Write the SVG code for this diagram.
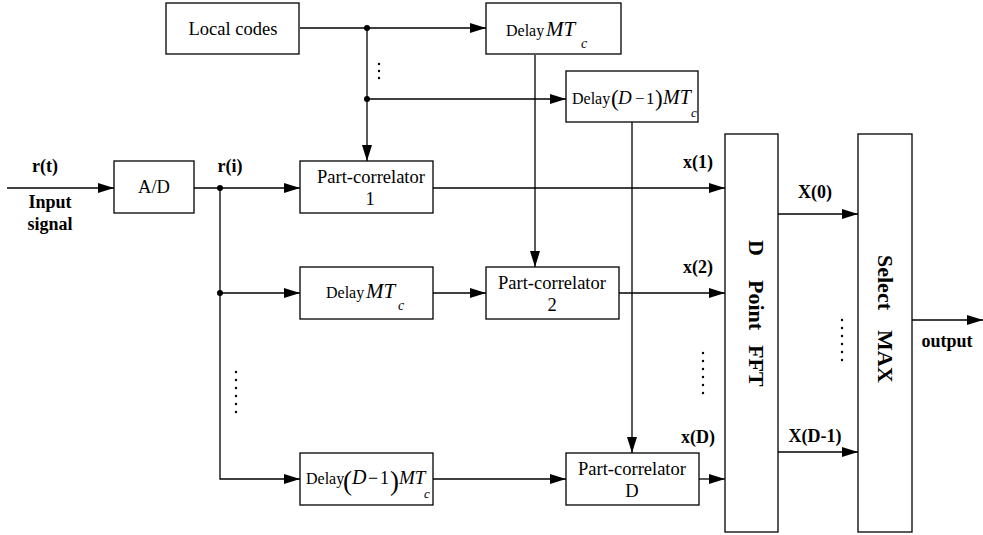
<svg xmlns="http://www.w3.org/2000/svg" width="983" height="535" viewBox="0 0 983 535" font-family="Liberation Serif, Times New Roman, serif">
<style>
.box{fill:#fff;stroke:#000;stroke-width:1.3}
.ln{fill:none;stroke:#000;stroke-width:1.3}
.ar{marker-end:url(#ah)}
text{font-family:'Liberation Serif','DejaVu Serif',serif;fill:#000}
.t{font-size:18.5px}
.b{font-size:18px;font-weight:bold}
.v{font-size:22px;font-weight:bold}
.d{font-size:16px}
.i{font-style:italic}
.dot{fill:#000}
</style>
<defs>
<marker id="ah" markerWidth="16" markerHeight="10" refX="16" refY="5" orient="auto" markerUnits="userSpaceOnUse">
<path d="M0,0 L16,5 L0,10 Z" fill="#000"/>
</marker>
</defs>
<rect width="983" height="535" fill="#fff"/>
<g id="connectors">
<line class="ln ar" x1="300" y1="28" x2="486" y2="28"/>
<line class="ln ar" x1="367" y1="28" x2="367" y2="161"/>
<line class="ln ar" x1="367" y1="99" x2="566" y2="99"/>
<line class="ln ar" x1="535" y1="55" x2="535" y2="267"/>
<line class="ln ar" x1="632" y1="122" x2="632" y2="453"/>
<line class="ln ar" x1="7" y1="188" x2="114" y2="188"/>
<line class="ln ar" x1="194" y1="188" x2="300" y2="188"/>
<polyline class="ln ar" points="220,188 220,479 300,479"/>
<line class="ln ar" x1="220" y1="293" x2="300" y2="293"/>
<line class="ln ar" x1="433" y1="293" x2="486" y2="293"/>
<line class="ln ar" x1="433" y1="479" x2="566" y2="479"/>
<line class="ln ar" x1="433" y1="188" x2="725" y2="188"/>
<line class="ln ar" x1="619" y1="293" x2="725" y2="293"/>
<line class="ln ar" x1="699" y1="479" x2="725" y2="479"/>
<line class="ln ar" x1="778" y1="214" x2="858" y2="214"/>
<line class="ln ar" x1="778" y1="452" x2="858" y2="452"/>
<line class="ln ar" x1="912" y1="320" x2="983" y2="320"/>
<circle class="dot" cx="367" cy="28" r="3"/>
<circle class="dot" cx="367" cy="99" r="3"/>
<circle class="dot" cx="220" cy="188" r="3"/>
<circle class="dot" cx="220" cy="293" r="3"/>
</g>
<g id="dots">
<circle class="dot" cx="379" cy="64" r="1.2"/>
<circle class="dot" cx="379" cy="71" r="1.2"/>
<circle class="dot" cx="379" cy="78" r="1.2"/>
<circle class="dot" cx="236" cy="372" r="1.2"/>
<circle class="dot" cx="236" cy="380" r="1.2"/>
<circle class="dot" cx="236" cy="388" r="1.2"/>
<circle class="dot" cx="236" cy="396" r="1.2"/>
<circle class="dot" cx="236" cy="404" r="1.2"/>
<circle class="dot" cx="236" cy="412" r="1.2"/>
<circle class="dot" cx="703" cy="353" r="1.2"/>
<circle class="dot" cx="703" cy="361" r="1.2"/>
<circle class="dot" cx="703" cy="369" r="1.2"/>
<circle class="dot" cx="703" cy="377" r="1.2"/>
<circle class="dot" cx="703" cy="385" r="1.2"/>
<circle class="dot" cx="703" cy="393" r="1.2"/>
<circle class="dot" cx="842" cy="320" r="1.2"/>
<circle class="dot" cx="842" cy="328" r="1.2"/>
<circle class="dot" cx="842" cy="336" r="1.2"/>
<circle class="dot" cx="842" cy="344" r="1.2"/>
<circle class="dot" cx="842" cy="352" r="1.2"/>
<circle class="dot" cx="842" cy="360" r="1.2"/>
</g>
<g id="labels">
<text class="b" x="45" y="172" text-anchor="middle">r(t)</text>
<text class="b" x="50" y="208" text-anchor="middle">Input</text>
<text class="b" x="50" y="230" text-anchor="middle">signal</text>
<text class="b" x="230" y="172" text-anchor="middle">r(i)</text>
<text class="b" x="698" y="168" text-anchor="middle">x(1)</text>
<text class="b" x="698" y="273" text-anchor="middle">x(2)</text>
<text class="b" x="698" y="443" text-anchor="middle">x(D)</text>
<text class="b" x="815" y="198" text-anchor="middle">X(0)</text>
<text class="b" x="815" y="442" text-anchor="middle">X(D-1)</text>
<text class="b" x="947" y="347" text-anchor="middle">output</text>
</g>
<g id="local-codes">
<rect class="box" x="166" y="3" width="133" height="51"/>
<text class="t" x="233" y="35" text-anchor="middle">Local codes</text>
</g>
<g id="delay-top">
<rect class="box" x="486" y="3" width="135" height="51"/>
<text class="d" x="506" y="36">Delay</text>
<text class="i" font-size="21" x="546" y="36">MT</text>
<text class="i" font-size="14" x="581" y="48">c</text>
</g>
<g id="delay-top-d">
<rect class="box" x="566" y="71" width="132" height="51"/>
<text class="d" x="572" y="104">Delay</text>
<text font-size="23" x="611" y="106">(</text>
<text class="i" font-size="19" x="618" y="104">D</text>
<text font-size="17" x="635" y="104">−</text>
<text font-size="17" x="646" y="104">1</text>
<text font-size="23" x="655" y="106">)</text>
<text class="i" font-size="20" x="663" y="104">MT</text>
<text class="i" font-size="13" x="691" y="117">c</text>
</g>
<g id="ad">
<rect class="box" x="114" y="161" width="80" height="52"/>
<text class="t" x="154" y="193" text-anchor="middle">A/D</text>
</g>
<g id="pc1">
<rect class="box" x="300" y="161" width="133" height="52"/>
<text class="t" x="371" y="183" text-anchor="middle">Part-correlator</text>
<text class="t" x="370" y="205" text-anchor="middle">1</text>
</g>
<g id="delay-mid">
<rect class="box" x="300" y="267" width="133" height="52"/>
<text class="d" x="326" y="298">Delay</text>
<text class="i" font-size="21" x="366" y="298">MT</text>
<text class="i" font-size="14" x="398" y="310">c</text>
</g>
<g id="pc2">
<rect class="box" x="486" y="267" width="133" height="52"/>
<text class="t" x="552" y="289" text-anchor="middle">Part-correlator</text>
<text class="t" x="552" y="311" text-anchor="middle">2</text>
</g>
<g id="delay-bottom">
<rect class="box" x="300" y="453" width="133" height="52"/>
<text class="d" x="306" y="484">Delay</text>
<text font-size="27" x="343" y="490">(</text>
<text class="i" font-size="20" x="352" y="484">D</text>
<text font-size="18" x="368" y="484">−</text>
<text font-size="18" x="380" y="484">1</text>
<text font-size="27" x="390" y="490">)</text>
<text class="i" font-size="19" x="399" y="484">MT</text>
<text class="i" font-size="13" x="424" y="498">c</text>
</g>
<g id="pcD">
<rect class="box" x="566" y="453" width="133" height="52"/>
<text class="t" x="632" y="475" text-anchor="middle">Part-correlator</text>
<text class="t" x="632" y="497" text-anchor="middle">D</text>
</g>
<g id="fft">
<rect class="box" x="725" y="134" width="53" height="398"/>
<text class="v" transform="translate(749,240) rotate(90)">D</text>
<text class="v" transform="translate(749,280) rotate(90)">Point</text>
<text class="v" transform="translate(749,345) rotate(90)">FFT</text>
</g>
<g id="select-max">
<rect class="box" x="858" y="134" width="54" height="398"/>
<text class="v" transform="translate(878,255) rotate(90)">Select</text>
<text class="v" transform="translate(878,330) rotate(90)">MAX</text>
</g>
</svg>
